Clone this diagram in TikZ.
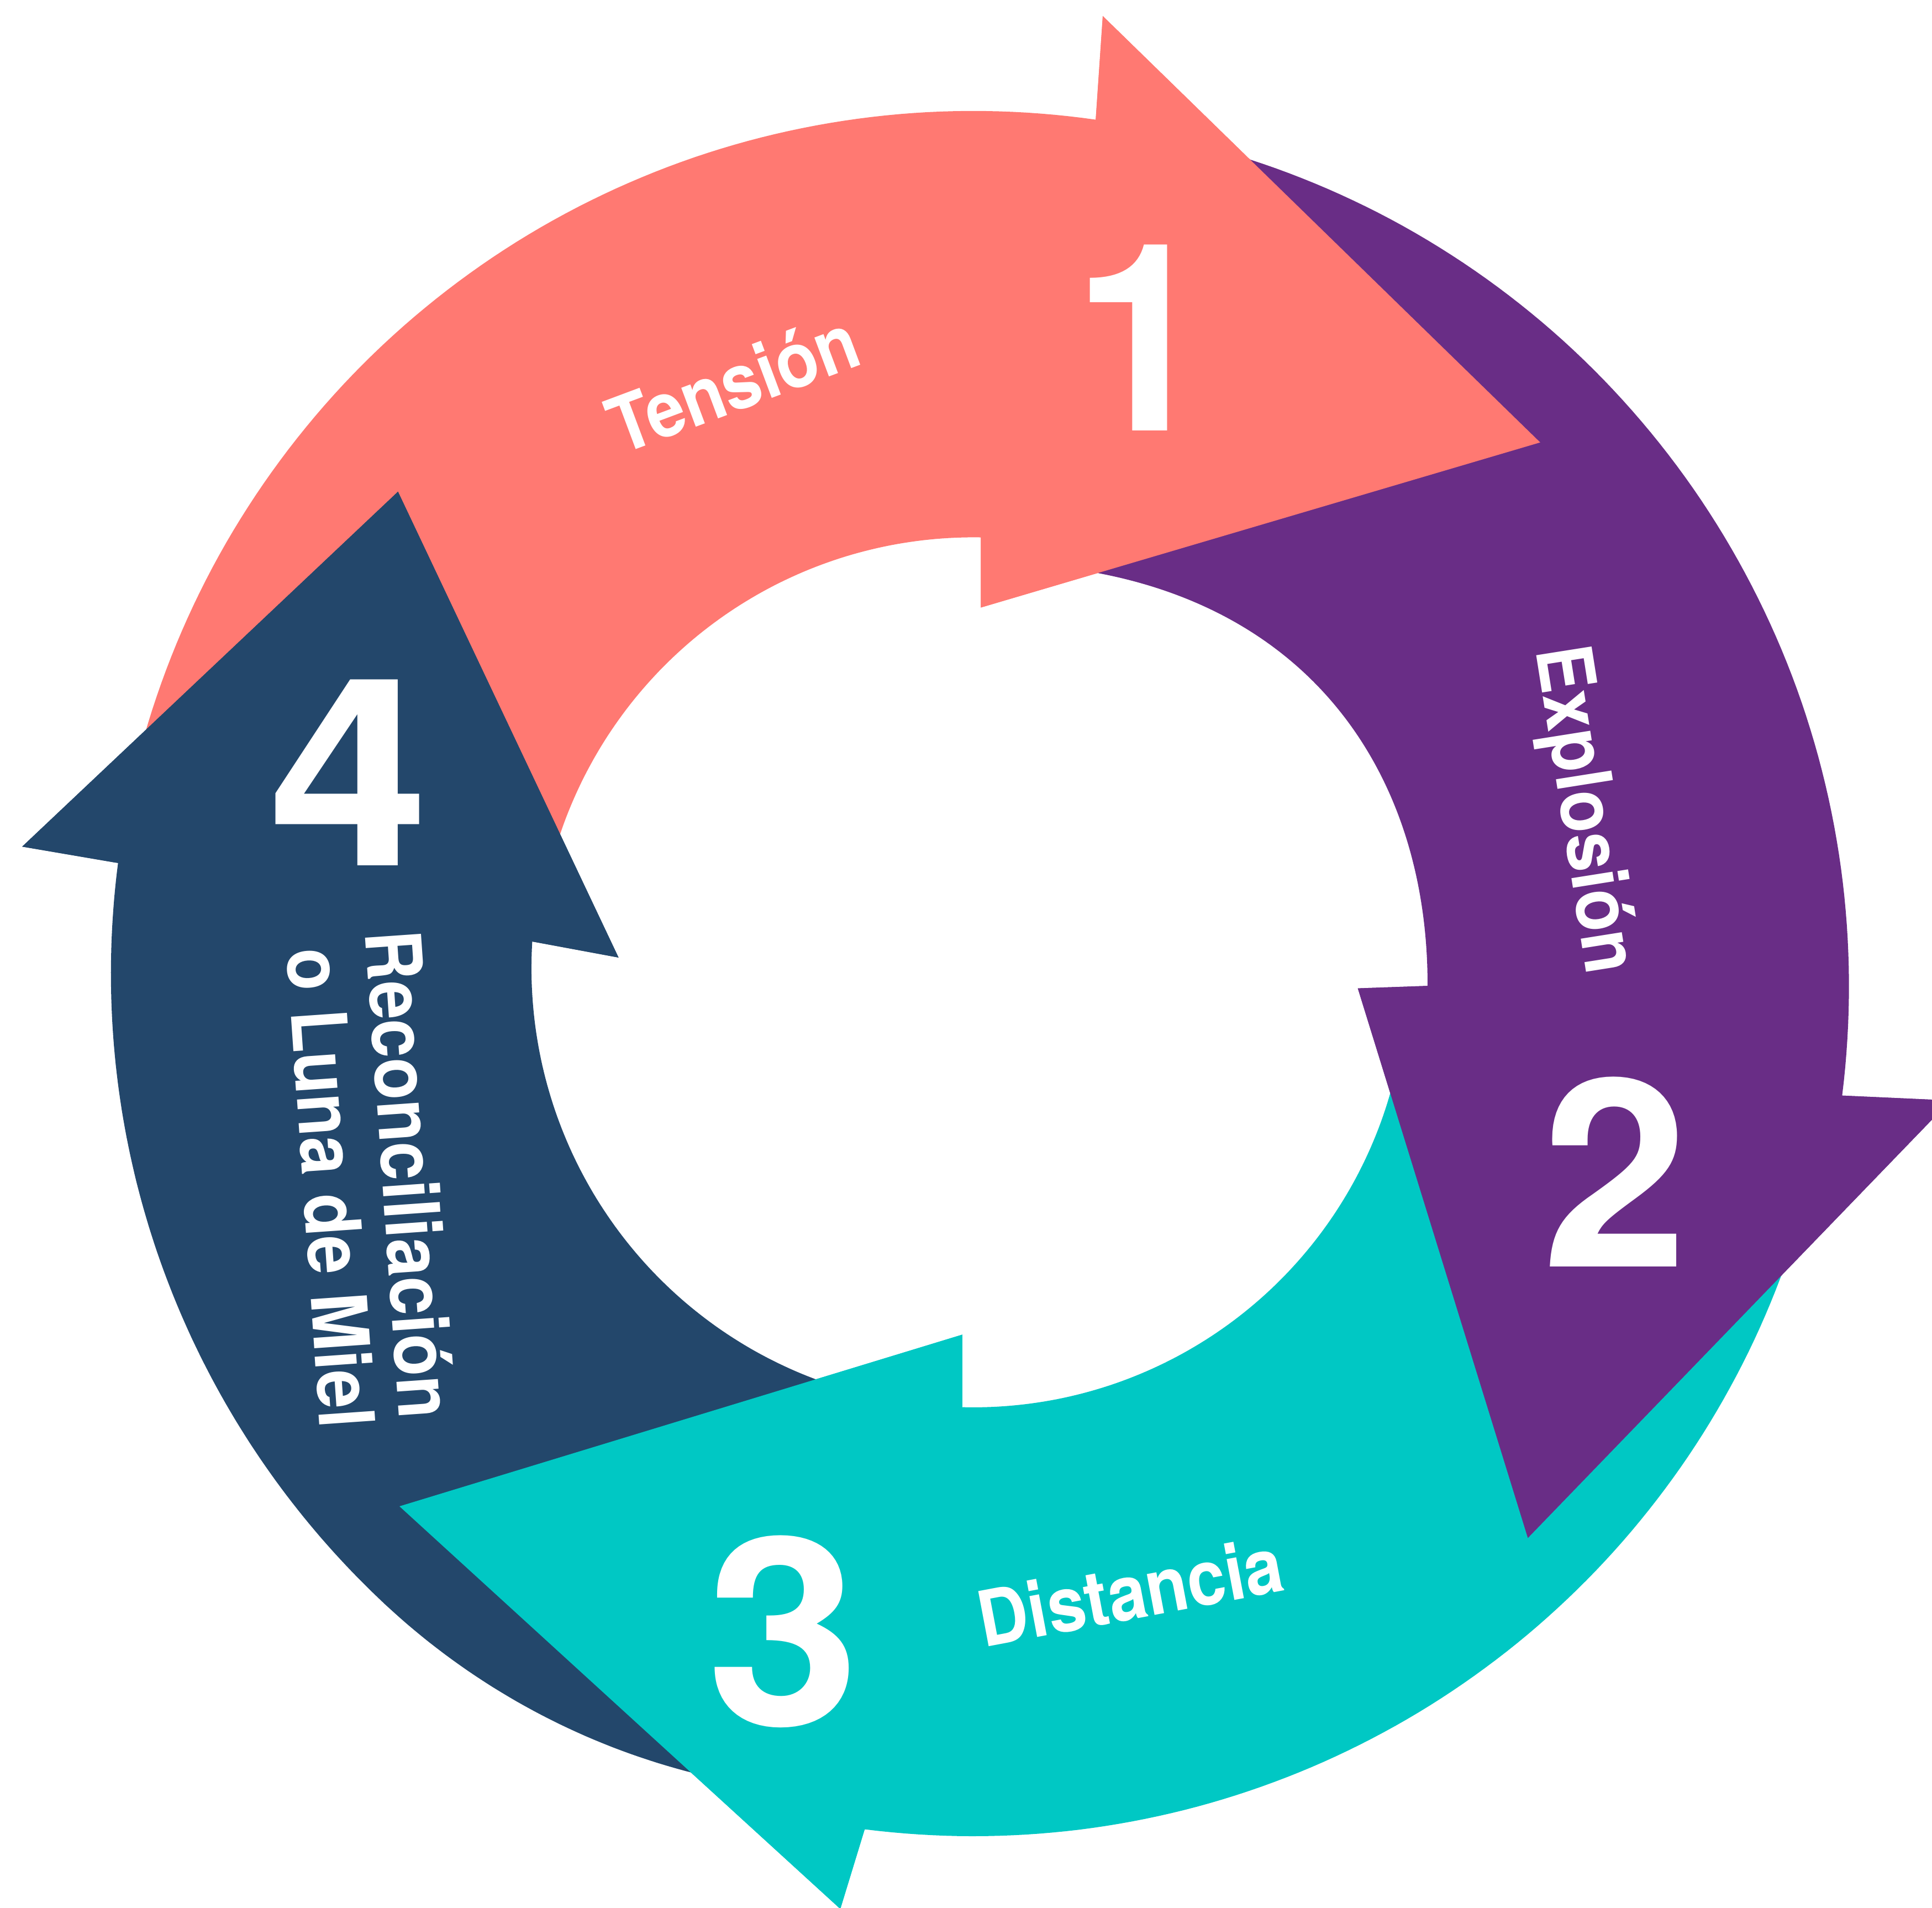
\documentclass[tikz,border=0pt]{standalone}
\usepackage{fontspec}
\setmainfont{TeX Gyre Heros}
\usetikzlibrary{calc}
\definecolor{coral}{HTML}{FF7972}
\definecolor{plum}{HTML}{692D86}
\definecolor{aqua}{HTML}{00C8C4}
\definecolor{navy}{HTML}{23476B}
\begin{document}
\begin{tikzpicture}[x=0.0223cm, y=-0.0223cm,
  stage/.style={font=\bfseries\fontsize{135}{135}\selectfont, text=white, inner sep=0pt},
  tag/.style={font=\bfseries\fontsize{39.6}{41}\selectfont, text=white, inner sep=0pt, anchor=base, xscale=0.9}]
\useasboundingbox (0,0) rectangle (1568,1548);
\clip (0,0) rectangle (1568,1548);

% arrow head corners: outer notch, outer barb, tip, inner barb, inner notch
\coordinate (c1) at (889,101);   \coordinate (c2) at (895,13);
\coordinate (c3) at (1250,359);  \coordinate (c4) at (796,493);
\coordinate (c5) at (796,436);
\coordinate (p1) at (1495,889);  \coordinate (p2) at (1583,893);
\coordinate (p3) at (1240,1248); \coordinate (p4) at (1102,802);
\coordinate (p5) at (1158.6,800);
\coordinate (t1) at (701.7,1484.6); \coordinate (t2) at (682,1549);
\coordinate (t3) at (324.2,1222.3); \coordinate (t4) at (781,1083);
\coordinate (t5) at (781,1141);
\coordinate (n1) at (94,700);    \coordinate (n2) at (18,687);
\coordinate (n3) at (323,399);   \coordinate (n4) at (502,777);
\coordinate (n5) at (432,764);

% 1 -- tension band
\fill[coral] plot[domain=-165:-81.8, samples=90] ({790+700*cos(\x)},{790+700*sin(\x)})
  -- (c1) -- (c2) -- (c3) -- (c4) -- (c5)
  -- plot[domain=-89.03:-165, samples=90] ({790+354*cos(\x)},{790+354*sin(\x)}) -- cycle;
% 2 -- explosion band
\fill[plum] plot[domain=-75:8, samples=90] ({790+(697+15*(\x+75)/83)*cos(\x)},{790+(697+15*(\x+75)/83)*sin(\x)})
  -- (p1) -- (p2) -- (p3) -- (p4) -- (p5)
  .. controls (1159,640) and (1075,500) .. (891,465) -- (880,452) -- cycle;
% 3 -- distance band
\fill[aqua] plot[domain=18:97.2, samples=90] ({790+700*cos(\x)},{790+700*sin(\x)})
  -- (t1) -- (t2) -- (t3) -- (t4) -- (t5)
  -- plot[domain=91.5:12, samples=90] ({790+352*cos(\x)},{790+352*sin(\x)}) -- cycle;
% 4 -- reconciliation band (its outer rim pulls in slightly near the tail)
\fill[navy] plot[domain=108:133, samples=40] ({790+(700-14*(1-(\x-108)/25)^2)*cos(\x)},{790+(700-14*(1-(\x-108)/25)^2)*sin(\x)})
  -- plot[domain=133:187.4, samples=90] ({790+700*cos(\x)},{790+700*sin(\x)})
  -- (n1) -- (n2) -- (n3) -- (n4) -- (n5)
  -- plot[domain=184.2:108, samples=90] ({790+(353+6*(\x-108)/76.2)*cos(\x)},{790+(353+6*(\x-108)/76.2)*sin(\x)}) -- cycle;

% heads lie over the tail of the following band
\fill[coral] (c1) -- (c2) -- (c3) -- (c4) -- (c5) -- cycle;
\fill[plum]  (p1) -- (p2) -- (p3) -- (p4) -- (p5) -- cycle;
\fill[aqua]  (t1) -- (t2) -- (t3) -- (t4) -- (t5) -- cycle;
\fill[navy]  (n1) -- (n2) -- (n3) -- (n4) -- (n5) -- cycle;

% stage numbers
\node[stage, xscale=0.95] (one)   at (927,274)  {1};
\node[stage] (two)   at (1311,951) {2};
\node[stage, xscale=1.05] (three) at (636,1324) {3};
\node[stage, xscale=1.1] (four)  at (283,627)  {4};

% stage names
\node[rotate=20.5, tag] (tension) at (602.7,332.1) {Tensión};
\node[rotate=-81, tag] (explosion) at (1267.1,659.9) {Explosión};
\node[rotate=10.7, tag] (distance) at (921.4,1313.6) {Distancia};
\node[rotate=-86, tag] (recon) at (310.1,954.6) {Reconciliación};
\node[rotate=-86, tag] (honey) at (246.2,965.4) {o Luna de Miel};
\end{tikzpicture}
\end{document}
